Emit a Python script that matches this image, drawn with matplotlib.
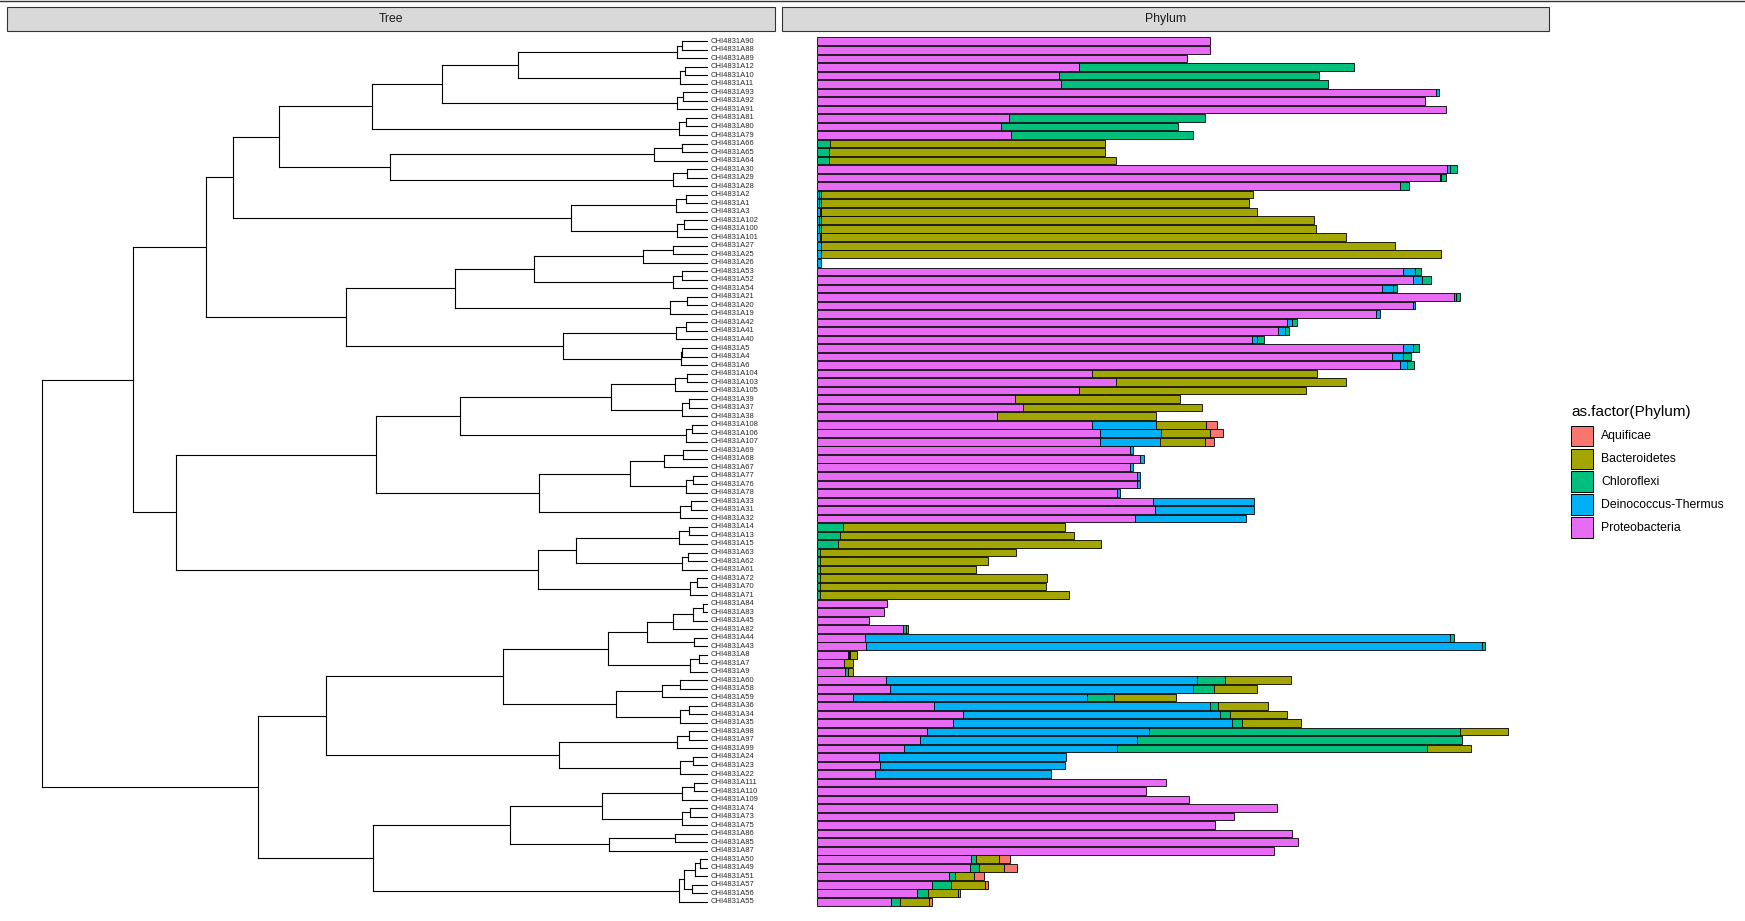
import matplotlib
matplotlib.use('Agg')
import matplotlib.pyplot as plt
from matplotlib.collections import LineCollection
from matplotlib.patches import Rectangle
from matplotlib.lines import Line2D

plt.rcParams['font.family'] = ['Liberation Sans', 'DejaVu Sans']

# ---------------- data ----------------
leaves = ["A90", "A88", "A89", "A12", "A10", "A11", "A93", "A92", "A91", "A81", "A80", "A79",
          "A66", "A65", "A64", "A30", "A29", "A28", "A2", "A1", "A3", "A102", "A100", "A101",
          "A27", "A25", "A26", "A53", "A52", "A54", "A21", "A20", "A19", "A42", "A41", "A40",
          "A5", "A4", "A6", "A104", "A103", "A105", "A39", "A37", "A38", "A108", "A106", "A107",
          "A69", "A68", "A67", "A77", "A76", "A78", "A33", "A31", "A32", "A14", "A13", "A15",
          "A63", "A62", "A61", "A72", "A70", "A71", "A84", "A83", "A45", "A82", "A44", "A43",
          "A8", "A7", "A9", "A60", "A58", "A59", "A36", "A34", "A35", "A98", "A97", "A99",
          "A24", "A23", "A22", "A111", "A110", "A109", "A74", "A73", "A75", "A86", "A85", "A87",
          "A50", "A49", "A51", "A57", "A56", "A55"]
label_prefix = "CHI4831"
tip_depth = 664.5

# (node, child1, child2, depth from root)
merges = [
    ("t0p", "A90", "A88", 640.0), ("t0", "t0p", "A89", 635.0),
    ("t1p", "A12", "A10", 643.0), ("t1", "t1p", "A11", 637.4),
    ("t2p", "A93", "A92", 641.0), ("t2", "t2p", "A91", 635.0),
    ("t3p", "A81", "A80", 644.0), ("t3", "t3p", "A79", 636.4),
    ("t4p", "A66", "A65", 640.0), ("t4", "t4p", "A64", 612.0),
    ("t5p", "A30", "A29", 645.0), ("t5", "t5p", "A28", 631.0),
    ("t6p", "A2", "A1", 644.0), ("t6", "t6p", "A3", 634.0),
    ("t7p", "A102", "A100", 642.0), ("t7", "t7p", "A101", 635.0),
    ("t8p", "A27", "A25", 631.0), ("t8", "t8p", "A26", 601.0),
    ("t9p", "A53", "A52", 640.0), ("t9", "t9p", "A54", 631.0),
    ("t10p", "A21", "A20", 645.0), ("t10", "t10p", "A19", 628.0),
    ("t11p", "A42", "A41", 644.0), ("t11", "t11p", "A40", 634.0),
    ("t12p", "A5", "A4", 640.0), ("t12", "t12p", "A6", 639.0),
    ("t13p", "A104", "A103", 645.0), ("t13", "t13p", "A105", 633.0),
    ("t14p", "A39", "A37", 647.0), ("t14", "t14p", "A38", 640.0),
    ("t15p", "A108", "A106", 650.0), ("t15", "t15p", "A107", 644.0),
    ("t16p", "A69", "A68", 641.0), ("t16", "t16p", "A67", 622.0),
    ("t17p", "A77", "A76", 651.0), ("t17", "t17p", "A78", 644.0),
    ("t18p", "A33", "A31", 649.0), ("t18", "t18p", "A32", 638.0),
    ("t19p", "A14", "A13", 647.0), ("t19", "t19p", "A15", 637.0),
    ("t20p", "A63", "A62", 646.0), ("t20", "t20p", "A61", 640.0),
    ("t21p", "A72", "A70", 655.0), ("t21", "t21p", "A71", 648.0),
    ("x1", "A84", "A83", 661.0), ("x2", "x1", "A45", 651.0), ("x3", "x2", "A82", 631.0),
    ("x4", "A44", "A43", 652.0), ("x5", "x3", "x4", 605.0),
    ("t22p", "A8", "A7", 657.0), ("t22", "t22p", "A9", 648.0),
    ("x6", "x5", "t22", 566.0),
    ("t23p", "A60", "A58", 638.0), ("t23", "t23p", "A59", 620.0),
    ("t24p", "A36", "A34", 647.0), ("t24", "t24p", "A35", 638.0),
    ("x7", "t23", "t24", 574.0),
    ("x8", "x6", "x7", 461.0),
    ("t25p", "A98", "A97", 647.0), ("t25", "t25p", "A99", 635.0),
    ("t26p", "A24", "A23", 651.0), ("t26", "t26p", "A22", 638.0),
    ("x9", "t25", "t26", 517.0),
    ("x10", "x8", "x9", 284.0),
    ("t27p", "A111", "A110", 652.0), ("t27", "t27p", "A109", 640.0),
    ("t28p", "A74", "A73", 648.0), ("t28", "t28p", "A75", 640.0),
    ("x11", "t27", "t28", 560.0),
    ("x12", "A86", "A85", 633.0), ("x13", "x12", "A87", 567.0),
    ("x14", "x11", "x13", 468.0),
    ("x15", "A50", "A49", 658.0), ("x16", "x15", "A51", 653.0),
    ("x17", "A57", "A56", 650.0), ("x18", "x16", "x17", 642.0),
    ("x19", "x18", "A55", 637.0),
    ("x20", "x14", "x19", 331.0),
    ("x21", "x10", "x20", 216.0),
    ("u1", "t0", "t1", 476.0), ("u2", "u1", "t2", 400.0), ("u3", "u2", "t3", 329.4),
    ("u4", "t4", "t5", 348.0), ("u5", "u3", "u4", 237.0),
    ("u6", "t6", "t7", 529.0), ("u7", "u5", "u6", 191.0),
    ("u8", "t8", "t9", 492.0), ("u9", "u8", "t10", 413.0),
    ("u10", "t11", "t12", 521.0), ("u11", "u9", "u10", 304.0),
    ("u12", "u7", "u11", 163.7),
    ("u13", "t13", "t14", 568.7), ("u14", "u13", "t15", 418.0),
    ("u15", "t16", "t17", 587.7), ("u16", "u15", "t18", 497.0),
    ("u17", "u14", "u16", 333.4),
    ("u18", "t19", "t20", 534.0), ("u19", "u18", "t21", 496.0),
    ("u20", "u17", "u19", 133.7),
    ("u21", "u12", "u20", 91.0),
    ("root", "u21", "x21", 0.0),
]

phyla = ["Aquificae", "Bacteroidetes", "Chloroflexi", "Deinococcus-Thermus", "Proteobacteria"]
phylum_colors = ["#F8766D", "#A3A500", "#00BF7D", "#00B0F6", "#E76BF3"]

proteobacteria = [353.5, 353.5, 332.5, 235.5, 217.5, 219.5, 556.5, 546.5, 565.5, 172.5, 165.5, 174.5,
                  0, 0, 0, 566.5, 559.5, 523.5,
                  0, 0, 0, 0, 0, 0, 0, 0, 0,
                  526.5, 535.5, 507.5, 572.5, 535.5, 502.5, 422.5, 414.5, 390.5, 526.5, 516.5, 523.5,
                  247.5, 268.5, 235.5, 177.5, 185.5, 161.5, 247.5, 254.5, 254.5,
                  281.5, 290.5, 281.5, 287.5, 287.5, 269.5, 301.5, 303.5, 285.5,
                  0, 0, 0, 0, 0, 0, 0, 0, 0,
                  62.8, 60.1, 46.6, 77.2, 43.0, 43.9, 27.8, 24.2, 25.1, 61.9, 65.5, 32.3,
                  105.0, 131.1, 122.1, 98.8, 92.5, 78.1, 55.6, 56.5, 52.0,
                  313.5, 295.5, 334.5, 413.5, 374.5, 357.5, 426.5, 432.5, 410.5,
                  138.3, 137.4, 118.5, 103.3, 89.8, 66.4]
deinococcus = [0, 0, 0, 0, 0, 0, 2, 0, 0, 0, 0, 0,
               0, 0, 0, 2, 1, 0,
               2, 2, 2.5, 2, 2, 2.5, 3.5, 3.5, 3.5,
               11, 8, 10, 2, 2, 3, 4, 6, 5, 9, 10, 7,
               0, 0, 0, 0, 0, 0, 57, 55, 54,
               2, 3, 2, 3, 3, 3, 91, 89, 100,
               0, 0, 0, 0, 0, 0, 0, 0, 0,
               0, 0, 0, 0, 525.5, 553.6, 0.7, 0, 0, 279.6, 272, 210.2,
               248.5, 231.4, 250.4, 199.7, 195, 191.4, 168.1, 166.2, 158.2,
               0, 0, 0, 0, 0, 0, 0, 0, 0,
               0, 0, 0, 0, 0, 0]
chloroflexi = [0, 0, 0, 247, 234, 240, 0, 0, 0, 176, 159, 163,
               11.5, 10.5, 10.5, 7, 5, 8,
               1.5, 1.5, 1.5, 1.5, 1.5, 1.5, 0, 0, 0,
               5, 8, 4, 3, 0, 0, 5, 4, 6, 5, 7, 6,
               0, 0, 0, 0, 0, 0, 0, 0, 0,
               0, 0, 0, 0, 0, 0, 0, 0, 0,
               23.3, 20.5, 18.8, 2.6, 2.9, 2.6, 2.6, 2.9, 2.6,
               0, 0, 0, 2.7, 4, 3, 1, 0, 2.7, 25, 19, 24,
               7, 9, 9, 279, 292, 279, 0, 0, 0,
               0, 0, 0, 0, 0, 0, 0, 0, 0,
               4.5, 8.1, 5.4, 17.4, 9.9, 8.1]
bacteroidetes = [0, 0, 0, 0, 0, 0, 0, 0, 0, 0, 0, 0,
                 247, 248, 258, 0, 0, 0,
                 388, 385, 391.5, 443, 445, 471.5, 516, 557, 0,
                 0, 0, 0, 0, 0, 0, 0, 0, 0, 0, 0, 0,
                 202, 207, 204, 149, 160, 143, 45, 44, 40,
                 0, 0, 0, 0, 0, 0, 0, 0, 0,
                 199.7, 210.7, 236.7, 176.4, 151, 140.2, 204.3, 203.1, 223.5,
                 0, 0, 0, 1.8, 0, 0, 6.3, 8.1, 4.5, 59, 39, 56,
                 45, 51, 53, 43, 0, 39, 0, 0, 0,
                 0, 0, 0, 0, 0, 0, 0, 0, 0,
                 20.7, 22.4, 17.1, 30.2, 26.9, 26]
aquificae = [0] * 45 + [10, 11, 8] + [0] * 48 + [9.8, 12, 9, 2.7, 2.1, 2.8]

# ---------------- layout helpers (pixel -> figure fraction) ----------------
W, H = 1745, 921
fig = plt.figure(figsize=(W / 100, H / 100), dpi=100)


def fx(x):
    return x / W


def fy(y):
    return 1 - y / H


panel_top, panel_bot = 30.7, 912.4
row0, row_step = 41.3, 8.52
ylim_top = (panel_top - row0) / row_step
ylim_bot = (panel_bot - row0) / row_step

# ---------------- tree panel ----------------
tx0, tx1 = 7.3, 774.6
root_px = 42.3
ax_t = fig.add_axes([fx(tx0), fy(panel_bot), fx(tx1) - fx(tx0), fy(panel_top) - fy(panel_bot)])
ax_t.set_xlim(tx0 - root_px, tx1 - root_px)
ax_t.set_ylim(ylim_bot, ylim_top)
ax_t.axis('off')

ypos = {name: i for i, name in enumerate(leaves)}
xpos = {name: tip_depth for name in leaves}
segs = []
for node, a, b, d in merges:
    ypos[node] = (ypos[a] + ypos[b]) / 2
    xpos[node] = d
    segs.append([(d, ypos[a]), (d, ypos[b])])
    for c in (a, b):
        segs.append([(d, ypos[c]), (xpos[c], ypos[c])])
ax_t.add_collection(LineCollection(segs, colors='black', linewidths=0.8, capstyle='projecting'))

for i, name in enumerate(leaves):
    ax_t.text(tip_depth + 3.5, i, label_prefix + name, fontsize=5.5, va='center', ha='left',
              color='#2b2b2b')

# ---------------- bar panel ----------------
bx0, bx1 = 782.4, 1549.0
bar0 = 817.0
unit = 1.1129
ax_b = fig.add_axes([fx(bx0), fy(panel_bot), fx(bx1) - fx(bx0), fy(panel_top) - fy(panel_bot)])
ax_b.set_xlim(-(bar0 - bx0) / unit, (bx1 - bar0) / unit)
ax_b.set_ylim(ylim_bot, ylim_top)
ax_b.axis('off')

stack_order = [(proteobacteria, phylum_colors[4]), (deinococcus, phylum_colors[3]),
               (chloroflexi, phylum_colors[2]), (bacteroidetes, phylum_colors[1]),
               (aquificae, phylum_colors[0])]
left = [0.0] * len(leaves)
for vals, col in stack_order:
    for i, v in enumerate(vals):
        if v > 0:
            ax_b.barh(i, v, left=left[i], height=0.9, color=col, edgecolor='black', linewidth=0.6)
        left[i] += v

# ---------------- strips ----------------
for (sx0, sx1, txt) in [(tx0, tx1, "Tree"), (bx0, bx1, "Phylum")]:
    fig.patches.append(Rectangle((fx(sx0), fy(30.7)), fx(sx1) - fx(sx0), fy(7.3) - fy(30.7),
                                 transform=fig.transFigure, facecolor='#D9D9D9',
                                 edgecolor='#333333', linewidth=0.8))
    fig.text(fx((sx0 + sx1) / 2), fy(19.0), txt, fontsize=8.8, color='#1A1A1A',
             ha='center', va='center')

# top border line
fig.lines.append(Line2D([0, 1], [fy(0.6), fy(0.6)], transform=fig.transFigure,
                        color='#333333', linewidth=1.0))

# ---------------- legend ----------------
fig.text(fx(1571), fy(411.7), "as.factor(Phylum)", fontsize=11, ha='left', va='center', color='black')
key_tops = [425.7, 448.7, 471.3, 494.3, 517.3]
for name, col, kt in zip(phyla, phylum_colors, key_tops):
    fig.patches.append(Rectangle((fx(1571.3), fy(kt + 20.5)), fx(22), fy(0) - fy(20.5),
                                 transform=fig.transFigure, facecolor=col,
                                 edgecolor='black', linewidth=0.7))
    fig.text(fx(1601), fy(kt + 10.5), name, fontsize=8.8, ha='left', va='center', color='black')

fig.savefig('out.png', dpi=100, facecolor='white')
